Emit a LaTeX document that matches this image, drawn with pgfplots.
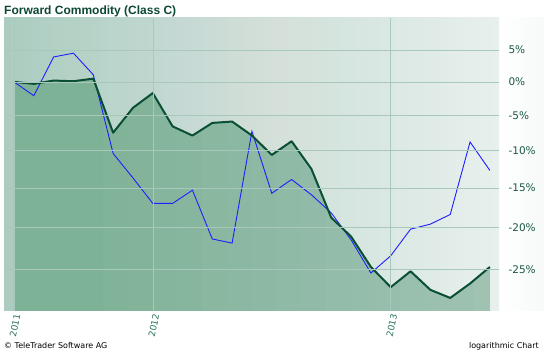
\documentclass[border=0pt]{standalone}
\usepackage{pgfplots}
\pgfplotsset{compat=1.18}
\usepackage{fontspec}
\setmainfont{DejaVu Sans}
\newfontfamily\titlefont{Liberation Sans}
\definecolor{dkgreen}{RGB}{10,79,53}
\definecolor{titlegreen}{RGB}{12,72,52}
\definecolor{labgreen}{RGB}{25,90,65}
\definecolor{xlabgreen}{RGB}{40,115,85}
\definecolor{fillL}{RGB}{126,178,150}
\definecolor{bgL}{RGB}{172,204,192}
\definecolor{bgR}{RGB}{232,240,237}
\definecolor{gridc}{RGB}{168,200,188}
\definecolor{blueline}{RGB}{30,30,255}
\begin{document}
\begin{tikzpicture}
\useasboundingbox (0pt,0pt) rectangle (544pt,353pt);
\shade[left color=white, right color=white!90!gridc] (499pt,42pt) rectangle (544pt,335pt);
\shade[left color=bgL, right color=bgR] (4pt,42pt) rectangle (499pt,335pt);
\begin{axis}[
  at={(4pt,42pt)}, anchor=south west,
  scale only axis, width=495pt, height=293pt,
  xmin=-0.504, xmax=24.46,
  ymode=log, ymin=70.38, ymax=110.3,
  log origin=infty,
  axis line style={draw=none},
  tick style={draw=none},
  xtick={0,7,19}, xticklabels={2011,2012,2013},
  ytick={75,80,85,90,95,100,105},
  yticklabels={-25\%,-20\%,-15\%,-10\%,-5\%,0\%,5\%},
  yticklabel pos=right,
  yticklabel style={anchor=west, xshift=6pt, text=labgreen, font=\fontsize{10.5}{10.5}\selectfont},
  xticklabel style={rotate=78, anchor=east, text=xlabgreen, font=\fontsize{9}{9}\selectfont, xshift=1pt, yshift=-4pt},
  xmajorgrids, ymajorgrids,
  grid style={color=gridc, line width=0.5pt},
  axis on top,
  clip=true,
]
\addplot[draw=none, fill=fillL] table[x=x,y=g] {
x g
0 100.0
1 99.7
2 100.2
3 100.1
4 100.5
5 92.5
6 96.1
7 98.3
8 93.4
9 92.1
10 93.9
11 94.1
12 92.1
13 89.4
14 91.3
15 87.5
16 81.2
17 78.9
18 75.3
19 73.0
20 74.8
21 72.7
22 71.8
23 73.4
24 75.3
} \closedcycle;
\fill[white, opacity=0.025] (rel axis cs:0.20,0) rectangle (rel axis cs:1,1);
\fill[white, opacity=0.025] (rel axis cs:0.25,0) rectangle (rel axis cs:1,1);
\fill[white, opacity=0.025] (rel axis cs:0.30,0) rectangle (rel axis cs:1,1);
\fill[white, opacity=0.025] (rel axis cs:0.35,0) rectangle (rel axis cs:1,1);
\fill[white, opacity=0.025] (rel axis cs:0.40,0) rectangle (rel axis cs:1,1);
\fill[white, opacity=0.025] (rel axis cs:0.45,0) rectangle (rel axis cs:1,1);
\fill[white, opacity=0.025] (rel axis cs:0.50,0) rectangle (rel axis cs:1,1);
\fill[white, opacity=0.025] (rel axis cs:0.55,0) rectangle (rel axis cs:1,1);
\fill[white, opacity=0.025] (rel axis cs:0.60,0) rectangle (rel axis cs:1,1);
\fill[white, opacity=0.025] (rel axis cs:0.65,0) rectangle (rel axis cs:1,1);
\fill[white, opacity=0.025] (rel axis cs:0.70,0) rectangle (rel axis cs:1,1);
\fill[white, opacity=0.025] (rel axis cs:0.75,0) rectangle (rel axis cs:1,1);
\fill[white, opacity=0.025] (rel axis cs:0.80,0) rectangle (rel axis cs:1,1);
\fill[white, opacity=0.025] (rel axis cs:0.85,0) rectangle (rel axis cs:1,1);
\fill[white, opacity=0.025] (rel axis cs:0.90,0) rectangle (rel axis cs:1,1);
\fill[white, opacity=0.025] (rel axis cs:0.95,0) rectangle (rel axis cs:1,1);
\addplot[blueline, line width=0.9pt] table[x=x,y=b] {
x b
0 100.0
1 97.9
2 103.9
3 104.5
4 101.1
5 89.6
6 86.3
7 83.0
8 83.0
9 84.7
10 78.6
11 78.1
12 92.7
13 84.3
14 86.1
15 84.1
16 81.8
17 78.5
18 74.6
19 76.6
20 79.8
21 80.4
22 81.6
23 91.2
24 87.3
};
\addplot[dkgreen, line width=2pt, line join=round] table[x=x,y=g] {
x g
0 100.0
1 99.7
2 100.2
3 100.1
4 100.5
5 92.5
6 96.1
7 98.3
8 93.4
9 92.1
10 93.9
11 94.1
12 92.1
13 89.4
14 91.3
15 87.5
16 81.2
17 78.9
18 75.3
19 73.0
20 74.8
21 72.7
22 71.8
23 73.4
24 75.3
};
\end{axis}
\node[anchor=base west, inner sep=0, font=\titlefont\bfseries\fontsize{12}{12}\selectfont, text=titlegreen] at (4pt,338pt) {Forward Commodity (Class C)};
\node[anchor=base west, inner sep=0, font=\fontsize{8}{8}\selectfont] at (4pt,4pt) {© TeleTrader Software AG};
\node[anchor=base east, inner sep=0, font=\fontsize{8}{8}\selectfont] at (539pt,4pt) {logarithmic Chart};
\end{tikzpicture}
\end{document}
